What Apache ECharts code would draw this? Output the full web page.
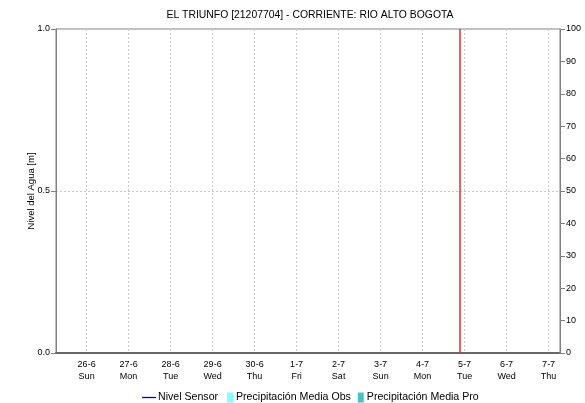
<!DOCTYPE html>
<html>
<head>
<meta charset="utf-8">
<script src="https://cdn.jsdelivr.net/npm/echarts@6/dist/echarts.min.js"></script>
<style>html,body{margin:0;padding:0;background:#fff}#c{width:585px;height:403px}</style>
</head>
<body>
<div id="c"></div>
<script>
// ---- data ----
const chartTitle = 'EL TRIUNFO [21207704] - CORRIENTE: RIO ALTO BOGOTA';
const firstDay = '2022-06-26';             // first labelled day (26-6 Sun)
const axisStart = '2022-06-25T06:30';      // left edge of the plot
const axisEnd = '2022-07-07T06:30';        // right edge of the plot
const currentTime = '2022-07-04T21:20';    // red "now" line
const weekdayNames = ['Sun', 'Mon', 'Tue', 'Wed', 'Thu', 'Fri', 'Sat'];
const nivelSensor = [];        // no data in the period
const precipitacionObs = [];   // no data
const precipitacionPro = [];   // no data
const leftTicks = [0, 0.5, 1.0];
const rightTicks = [0, 10, 20, 30, 40, 50, 60, 70, 80, 90, 100];
const seriesNames = ['Nivel Sensor', 'Precipitación Media Obs', 'Precipitación Media Pro'];

const DAY = 86400000;
const parseUTC = s => { const p = s.split(/[-T:]/).map(Number); return Date.UTC(p[0], p[1] - 1, p[2], p[3] || 0, p[4] || 0); };
const base = parseUTC(firstDay);
const toDays = s => (parseUTC(s) - base) / DAY;   // x coordinate: days since firstDay

const chart = echarts.init(document.getElementById('c'), null, {renderer: 'canvas'});
const font = 'Liberation Sans, Arial, sans-serif';
chart.setOption({
  animation: false,
  backgroundColor: '#fff',
  textStyle: {fontFamily: font},
  title: {
    text: chartTitle, left: 310, textAlign: 'center', top: 10, padding: 0,
    textStyle: {fontSize: 10.4, fontWeight: 'normal', color: '#000', fontFamily: font}
  },
  grid: {left: 56, right: 25, top: 29, bottom: 50, show: true, borderColor: '#808080', borderWidth: 1},
  legend: [
    {
      left: 142, bottom: 0, padding: 0, itemWidth: 14, itemHeight: 10, itemGap: 6,
      textStyle: {fontSize: 10.6, color: '#000', fontFamily: font, padding: [0, 0, 0, -3]},
      data: [{name: seriesNames[0], icon: 'path://M0,0h14v1.3h-14z', itemStyle: {color: '#0000ff'}}]
    },
    {
      left: 227, bottom: 0, padding: 0, itemWidth: 6, itemHeight: 10, itemGap: 7,
      textStyle: {fontSize: 10.6, color: '#000', fontFamily: font, padding: [0, 0, 0, -2]},
      data: [
        {name: seriesNames[1], icon: 'rect', itemStyle: {color: '#80ffff'}},
        {name: seriesNames[2], icon: 'rect', itemStyle: {color: '#40c8c8'}}
      ]
    }
  ],
  xAxis: {
    type: 'value',
    min: toDays(axisStart), max: toDays(axisEnd),
    minInterval: 1, maxInterval: 1, splitNumber: 12,
    axisLine: {onZero: false, lineStyle: {color: '#666', width: 2, type: [1, 1]}},
    axisTick: {show: false},
    splitLine: {show: true, lineStyle: {color: '#c8c8c8', type: [2, 2]}},
    axisLabel: {
      fontSize: 9, color: '#000', lineHeight: 12, margin: 6, hideOverlap: false,
      showMinLabel: false, showMaxLabel: false,
      formatter: function (v) {
        if (Math.abs(v - Math.round(v)) > 1e-6) return '';
        const d = new Date(base + Math.round(v) * DAY);
        return d.getUTCDate() + '-' + (d.getUTCMonth() + 1) + '\n' + weekdayNames[d.getUTCDay()];
      }
    }
  },
  yAxis: [
    {
      type: 'value', min: leftTicks[0], max: leftTicks[leftTicks.length - 1], interval: 0.5,
      name: 'Nivel del Agua [m]', nameLocation: 'middle', nameGap: 20, nameMoveOverlap: false,
      nameTextStyle: {fontSize: 9.5, color: '#000'},
      axisLine: {show: true, onZero: false, lineStyle: {color: '#808080'}},
      axisTick: {show: true, length: 5, lineStyle: {color: '#808080'}},
      axisLabel: {fontSize: 9, color: '#000', margin: 6, formatter: v => v.toFixed(1)},
      splitLine: {show: true, lineStyle: {color: '#c8c8c8', type: [2, 2]}}
    },
    {
      type: 'value', min: rightTicks[0], max: rightTicks[rightTicks.length - 1], interval: 10,
      position: 'right',
      axisLine: {show: true, onZero: false, lineStyle: {color: '#808080'}},
      axisTick: {show: true, length: 5, lineStyle: {color: '#808080'}},
      axisLabel: {fontSize: 9, color: '#000', margin: 6},
      splitLine: {show: false}
    }
  ],
  series: [
    {
      name: seriesNames[0], type: 'line', yAxisIndex: 0, data: nivelSensor,
      color: '#0000ff', showSymbol: false,
      markLine: {
        silent: true, symbol: 'none', label: {show: false},
        lineStyle: {color: '#d83030', type: 'solid', width: 1.5},
        data: [{xAxis: toDays(currentTime)}]
      }
    },
    {name: seriesNames[1], type: 'bar', yAxisIndex: 1, data: precipitacionObs, color: '#80ffff'},
    {name: seriesNames[2], type: 'bar', yAxisIndex: 1, data: precipitacionPro, color: '#40c8c8'}
  ]
});
</script>
</body>
</html>
